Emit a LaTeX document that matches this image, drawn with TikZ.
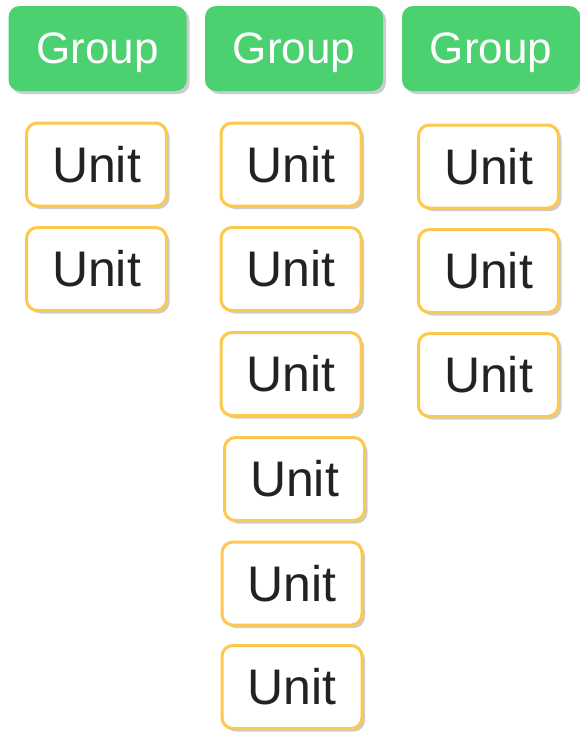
\documentclass[tikz,border=0pt]{standalone}
\usepackage{fontspec}
\setmainfont{Liberation Sans}
\usepackage{tikz}
\usetikzlibrary{shadows}
\definecolor{groupgreen}{HTML}{4CD170}
\definecolor{unitgold}{HTML}{FDC84B}
\definecolor{unittext}{HTML}{222222}
\tikzset{
  group/.style={fill=groupgreen, draw=none, rounded corners=11pt,
    minimum width=178pt, minimum height=85pt, text=white,
    font=\fontsize{44}{50}\selectfont, text depth=0pt,
    drop shadow={shadow xshift=3pt, shadow yshift=-3pt, opacity=0.4}},
  unit/.style={fill=white, draw=unitgold, line width=3pt, rounded corners=11pt,
    minimum width=140pt, minimum height=83pt, text=unittext,
    font=\fontsize{50}{56}\selectfont,
    drop shadow={shadow xshift=3pt, shadow yshift=-3pt, opacity=0.4}}
}
\begin{document}
\begin{tikzpicture}[x=1pt,y=-1pt]
    \useasboundingbox (0,0) rectangle (580,734);
    % groups
    \node[group] (g1) at (97.5,48.5) {Group};
    \node[group] (g2) at (294,48.5) {Group};
    \node[group] (g3) at (491,48.5) {Group};
    % first column
    \node[unit] (u11) at (96.5,164.5) {Unit};
    \node[unit] (u12) at (96.5,269) {Unit};
    % second column
    \node[unit] (u21) at (291,164.5) {Unit};
    \node[unit] (u22) at (291,269) {Unit};
    \node[unit] (u23) at (291,374) {Unit};
    \node[unit] (u24) at (294.5,479) {Unit};
    \node[unit] (u25) at (292,583.5) {Unit};
    \node[unit] (u26) at (292,687) {Unit};
    % third column
    \node[unit] (u31) at (488.5,166.5) {Unit};
    \node[unit] (u32) at (488.5,271) {Unit};
    \node[unit] (u33) at (488.5,375) {Unit};
\end{tikzpicture}
\end{document}
